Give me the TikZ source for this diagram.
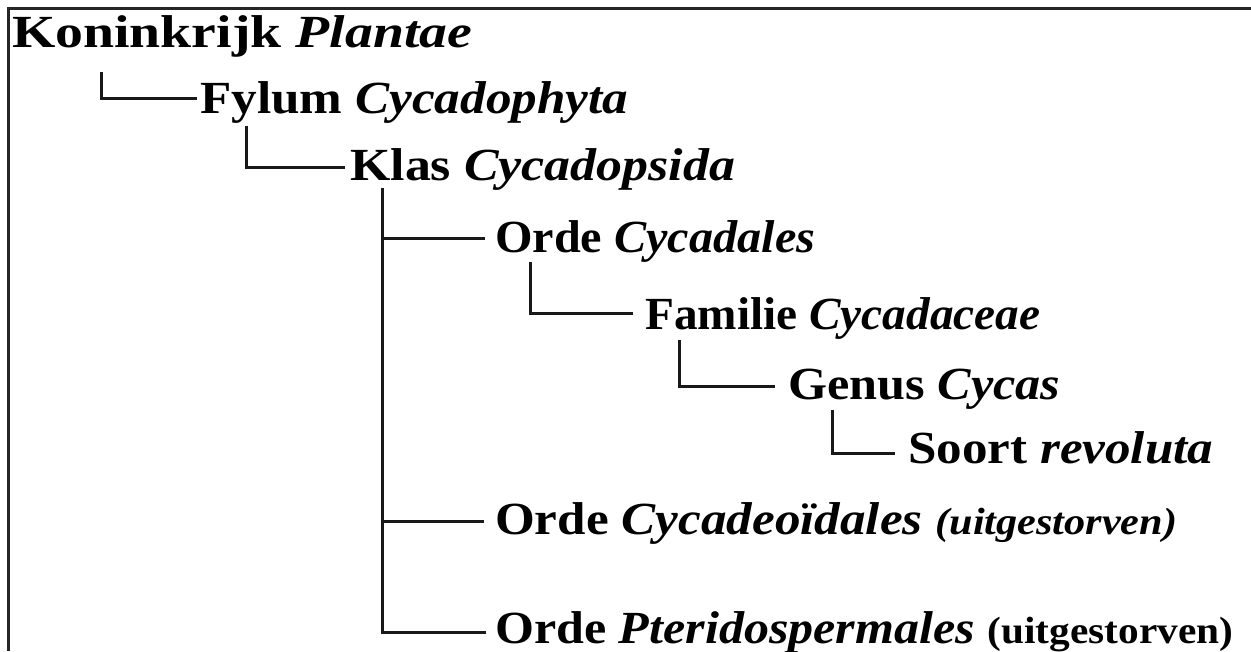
\documentclass[tikz,border=0pt]{standalone}
\usepackage{fontspec}
\setmainfont{Liberation Serif}
\usepackage{graphicx}
\newcommand\fitw[2]{\resizebox{#1pt}{\height}{#2}}
\newcommand\ext[1]{{\fontsize{38}{42}\selectfont #1}}
\begin{document}
\begin{tikzpicture}[x=1pt,y=-1pt,
  tx/.style={anchor=base west,inner sep=0pt,font=\fontsize{46}{50}\selectfont\bfseries},
  conn/.style={line width=3pt,draw=black!90},
  frame/.style={line width=3pt,draw=black!85}]
\useasboundingbox (0,0) rectangle (1251,651);
\draw[frame] (8.5,651) -- (8.5,8.5) -- (1251,8.5);

% taxa
\node[tx] (kon) at (12,47)   {\fitw{460}{Koninkrijk \textit{Plantae}}};
\node[tx] (fyl) at (200,113) {\fitw{428}{Fylum \textit{Cycadophyta}}};
\node[tx] (kla) at (350,180) {\fitw{385}{Klas \textit{Cycadopsida}}};
\node[tx] (or1) at (495,252) {\fitw{320}{Orde \textit{Cycadales}}};
\node[tx] (fam) at (645,329) {\fitw{395}{Familie \textit{Cycadaceae}}};
\node[tx] (gen) at (788,399) {\fitw{272}{Genus \textit{Cycas}}};
\node[tx] (soo) at (908,463) {\fitw{305}{Soort \textit{revoluta}}};
\node[tx] (or2) at (495,534) {\fitw{682}{Orde \textit{Cycadeoïdales} \ext{\textit{(uitgestorven)}}}};
\node[tx] (or3) at (495,643) {\fitw{738}{Orde \textit{Pteridospermales} \ext{(uitgestorven)}}};

% connector points
\coordinate (kon-d) at (101,72);
\coordinate (fyl-in) at (197,98);
\coordinate (fyl-d) at (246,126);
\coordinate (kla-in) at (345,167);
\coordinate (kla-d) at (382,188);
\coordinate (or1-in) at (485,238);
\coordinate (or2-in) at (484,521);
\coordinate (or3-in) at (486,632);
\coordinate (or1-d) at (530,262);
\coordinate (fam-in) at (633,313);
\coordinate (fam-d) at (679,340);
\coordinate (gen-in) at (775,386);
\coordinate (gen-d) at (832,410);
\coordinate (soo-in) at (895,453);

\draw[conn] (kon-d) |- (fyl-in);
\draw[conn] (fyl-d) |- (kla-in);
\draw[conn] (kla-d) |- (or3-in);
\draw[conn] (kla-d |- or1-in) -- (or1-in);
\draw[conn] (kla-d |- or2-in) -- (or2-in);
\draw[conn] (or1-d) |- (fam-in);
\draw[conn] (fam-d) |- (gen-in);
\draw[conn] (gen-d) |- (soo-in);
\end{tikzpicture}
\end{document}
